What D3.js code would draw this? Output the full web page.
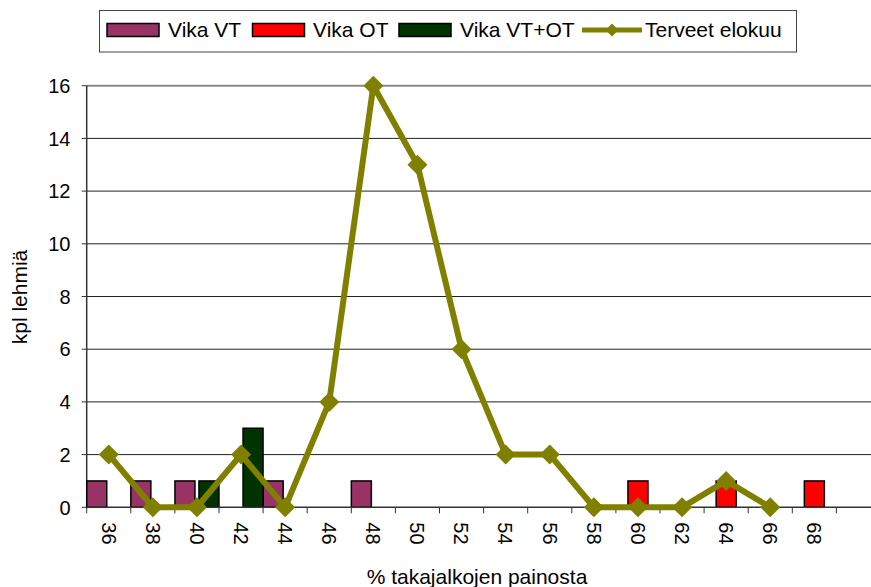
<!DOCTYPE html>
<html>
<head>
<meta charset="utf-8">
<script src="https://cdn.jsdelivr.net/npm/d3@7/dist/d3.min.js"></script>
<style>
html,body{margin:0;padding:0;background:#fff;overflow:hidden;}
svg{display:block;font-family:"Liberation Sans",Arial,sans-serif;}
</style>
</head>
<body>
<svg id="chart" width="871" height="587"></svg>
<script>
// ---- data ----
const categories = ["36","38","40","42","44","46","48","50","52","54","56","58","60","62","64","66","68",""];
const vikaVT   = [1,1,1,null,1,null,1,null,null,null,null,null,null,null,null,null,null,null];
const vikaOT   = [null,null,null,null,null,null,null,null,null,null,null,null,1,null,1,null,1,null];
const vikaVTOT = [null,null,1,3,null,null,null,null,null,null,null,null,null,null,null,null,null,null];
const terveet  = [2,0,0,2,0,4,16,13,6,2,2,0,0,0,1,0,null,null];
const yTicks = [0,2,4,6,8,10,12,14,16];
const seriesNames = ["Vika VT","Vika OT","Vika VT+OT","Terveet elokuu"];
const seriesColors = ["#993366","#FF0000","#003300","#808000"];

(function(){
const svg = d3.select("#chart");
const pLeft = 86.7, pBottom = 507.3, pTop = 85.7;
const band = 44.1;
const x = d3.scaleBand().domain(categories.map((c,i)=>i)).range([pLeft, pLeft + band*categories.length]).padding(0);
const y = d3.scaleLinear().domain([0,16]).range([pBottom, pTop]);

// gridlines
svg.append("g").selectAll("line").data(yTicks.filter(v=>v>0)).join("line")
  .attr("x1", pLeft).attr("x2", 871)
  .attr("y1", d=>y(d)).attr("y2", d=>y(d))
  .attr("stroke", d=> d===16 ? "#8a8a8a" : "#222")
  .attr("stroke-width", d=> d===16 ? 2 : 1);

// y axis
const yAxis = svg.append("g");
yAxis.append("line").attr("x1", pLeft).attr("x2", pLeft).attr("y1", pTop).attr("y2", pBottom)
  .attr("stroke","#333").attr("stroke-width",1.5);
yAxis.selectAll("line.tick").data(yTicks).join("line").attr("class","tick")
  .attr("x1", pLeft-5).attr("x2", pLeft).attr("y1", d=>y(d)).attr("y2", d=>y(d))
  .attr("stroke","#333").attr("stroke-width",1);
yAxis.selectAll("text").data(yTicks).join("text")
  .attr("x", 70.5).attr("y", d=>y(d)).attr("dy","0.36em")
  .attr("text-anchor","end").attr("font-size",20).attr("fill","#000").text(d=>d);

// bars
const barW = 20, offsets = [-12, 0, 12];
[vikaVT, vikaOT, vikaVTOT].forEach((vals, si) => {
  svg.append("g").selectAll("rect").data(vals.map((v,i)=>({v,i})).filter(d=>d.v!=null)).join("rect")
    .attr("x", d => x(d.i) + x.bandwidth()/2 + offsets[si] - barW/2)
    .attr("y", d => y(d.v))
    .attr("width", barW)
    .attr("height", d => y(0) - y(d.v))
    .attr("fill", seriesColors[si])
    .attr("stroke", "#000").attr("stroke-width", 1.5);
});

// x axis
const xAxis = svg.append("g");
xAxis.append("line").attr("x1", pLeft).attr("x2", 871).attr("y1", pBottom).attr("y2", pBottom)
  .attr("stroke","#333").attr("stroke-width",1.5);
xAxis.selectAll("line.tick").data(d3.range(categories.length+1)).join("line").attr("class","tick")
  .attr("x1", i => pLeft + i*x.bandwidth()).attr("x2", i => pLeft + i*x.bandwidth())
  .attr("y1", pBottom).attr("y2", pBottom+6)
  .attr("stroke","#333").attr("stroke-width",1);
xAxis.selectAll("text").data(categories.map((c,i)=>({c,i}))).join("text")
  .attr("transform", d => `translate(${x(d.i)+x.bandwidth()/2},${pBottom+15}) rotate(90)`)
  .attr("dy","0.36em").attr("text-anchor","start").attr("font-size",20).attr("fill","#000")
  .text(d=>d.c);

// line
const lineData = terveet.map((v,i)=>({v,i}));
const line = d3.line().defined(d=>d.v!=null)
  .x(d=>x(d.i)+x.bandwidth()/2).y(d=>y(d.v));
svg.append("path").datum(lineData).attr("d", line)
  .attr("fill","none").attr("stroke", seriesColors[3]).attr("stroke-width",6).attr("stroke-linejoin","round");
const diamond = r => `M0,${-r}L${r},0L0,${r}L${-r},0Z`;
svg.append("g").selectAll("path").data(lineData.filter(d=>d.v!=null)).join("path")
  .attr("transform", d=>`translate(${x(d.i)+x.bandwidth()/2},${y(d.v)})`)
  .attr("d", diamond(10)).attr("fill", seriesColors[3]);

// axis titles
svg.append("text").attr("x", 477).attr("y", 584).attr("text-anchor","middle")
  .attr("font-size",21).attr("fill","#000").text("% takajalkojen painosta");
svg.append("text").attr("transform","translate(27,297) rotate(-90)").attr("text-anchor","middle")
  .attr("font-size",21).attr("fill","#000").text("kpl lehmiä");

// legend
const lg = svg.append("g");
lg.append("rect").attr("x",99.5).attr("y",10.5).attr("width",697).attr("height",41.5)
  .attr("fill","#fff").attr("stroke","#444").attr("stroke-width",1);
const legendX = [107, 252.5, 399, 582];
const legendTextX = [168, 313, 460, 645];
seriesNames.forEach((name, i) => {
  if (i < 3) {
    lg.append("rect").attr("x", legendX[i]).attr("y", 23.5).attr("width", 52).attr("height", 13)
      .attr("fill", seriesColors[i]).attr("stroke","#000").attr("stroke-width",1.5);
  } else {
    lg.append("line").attr("x1", legendX[i]).attr("x2", legendX[i]+60).attr("y1",30).attr("y2",30)
      .attr("stroke", seriesColors[i]).attr("stroke-width",5);
    lg.append("path").attr("transform",`translate(${legendX[i]+30},30)`).attr("d", diamond(6.5))
      .attr("fill", seriesColors[i]);
  }
  lg.append("text").attr("x", legendTextX[i]).attr("y", 37).attr("font-size",21).attr("fill","#000").text(name);
});
})();
</script>
</body>
</html>
